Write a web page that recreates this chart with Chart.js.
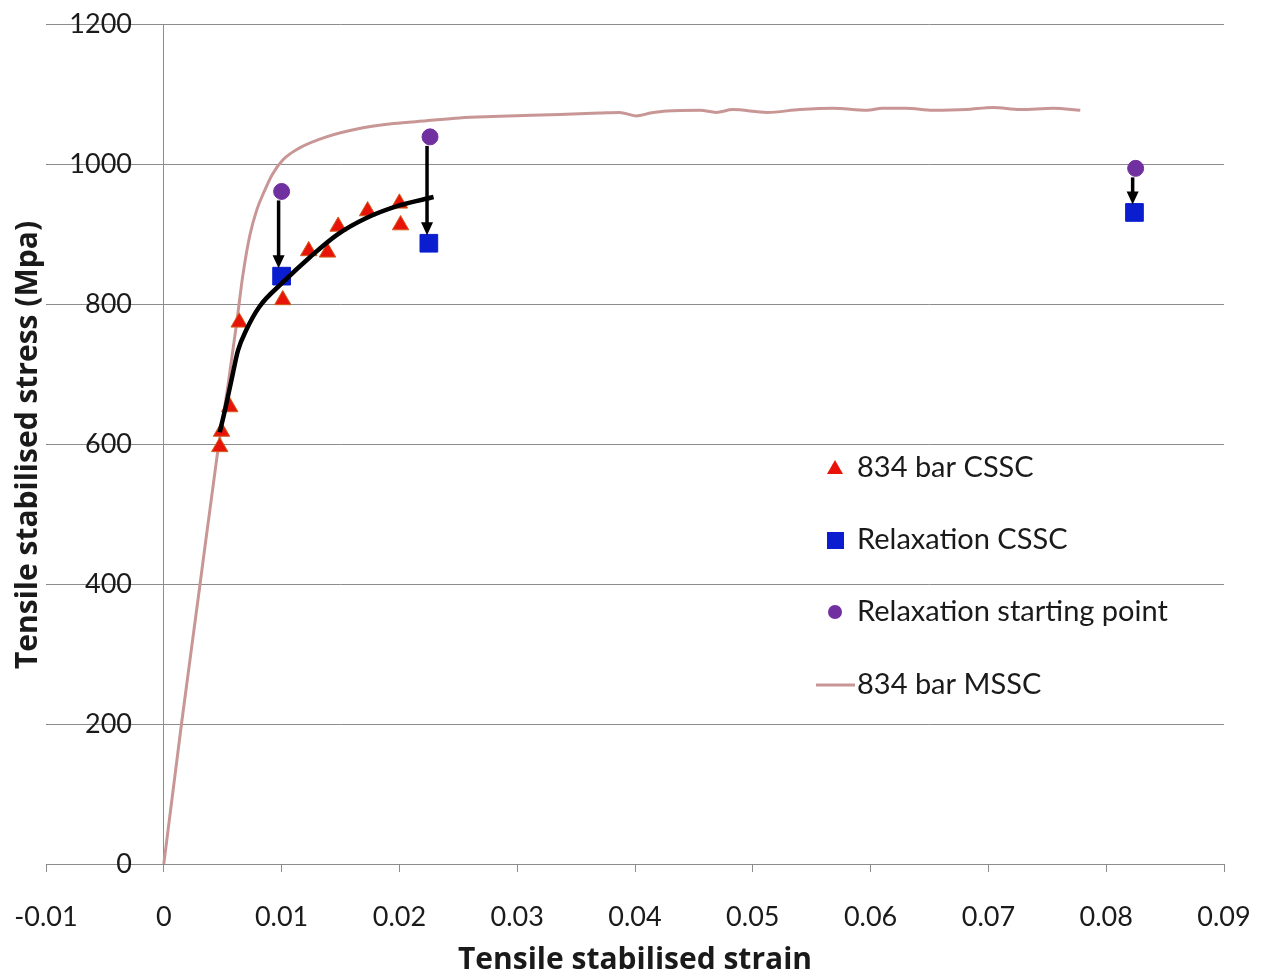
<!DOCTYPE html>
<html>
<head>
<meta charset="utf-8">
<script src="https://cdn.jsdelivr.net/npm/chart.js@4/dist/chart.umd.min.js"></script>
<style>
  body { margin: 0; background: #fff; }
  #wrap { width: 1265px; height: 980px; }
</style>
</head>
<body>
<div id="wrap"><canvas id="stressChart" width="1265" height="980"></canvas></div>
<script>
// 834 bar CSSC (triangles)
const cssc_strain = [0.00475, 0.0049, 0.0056, 0.0064, 0.0101, 0.0123, 0.0139, 0.0148, 0.0173, 0.0200, 0.0201];
const cssc_stress = [596, 618, 653, 774, 806, 876, 874, 911, 933, 944, 913];

// Relaxation CSSC (squares) and starting points (circles)
const relax_strain = [0.0100, 0.0225, 0.0824];
const relax_stress = [840, 887, 931];
const start_strain = [0.0100, 0.0226, 0.0825];
const start_stress = [961, 1039, 994];

// black fitted curve through the CSSC points
const fit_strain = [0.00475, 0.0052, 0.0058, 0.0063, 0.0070, 0.0081, 0.0101, 0.0124, 0.0147, 0.0172, 0.0200, 0.0229];
const fit_stress = [617, 649, 696, 734, 763, 796, 831, 867, 899, 923, 941, 953];

// 834 bar MSSC
const mssc_strain = [0, 0.0015, 0.0030, 0.0045, 0.0055, 0.0062, 0.0067, 0.0073, 0.0079, 0.0085, 0.0092, 0.0101, 0.0115, 0.0138, 0.0166, 0.0195,
  0.0223, 0.0251, 0.0279, 0.0336, 0.0370, 0.0387, 0.0401, 0.0413, 0.0427, 0.0455, 0.0469, 0.0483, 0.0512, 0.0540,
  0.0568, 0.0597, 0.0610, 0.0630, 0.0653, 0.0681, 0.0704, 0.0727, 0.0755, 0.0778];
const mssc_stress = [0, 200, 390, 580, 690, 775, 840, 898, 935, 960, 985, 1006, 1023, 1039, 1051, 1058,
  1062, 1066, 1068, 1071, 1073, 1074, 1069, 1073, 1076, 1077, 1074, 1078, 1074, 1078,
  1080, 1077, 1080, 1080, 1077, 1078, 1081, 1078, 1080, 1077];

const x_ticks = [-0.01, 0, 0.01, 0.02, 0.03, 0.04, 0.05, 0.06, 0.07, 0.08, 0.09];

const pts = (xs, ys) => xs.map((x, i) => ({ x: x, y: ys[i] }));

const FONT = 'Lato, "Open Sans", sans-serif';
const TXT = '#1a1a1a';
const GRID = '#8c8c8c';

// arrows from starting point down to relaxed point
const arrowPlugin = {
  id: 'arrows',
  afterDatasetsDraw(chart) {
    const from = chart.getDatasetMeta(2).data;
    const to = chart.getDatasetMeta(1).data;
    const ctx = chart.ctx;
    ctx.save();
    ctx.strokeStyle = '#000';
    ctx.fillStyle = '#000';
    ctx.lineWidth = 3.5;
    from.forEach((p, i) => {
      const q = to[i];
      const x = p.x - 3;
      const y0 = p.y + 9;
      const y1 = q.y - 8;
      ctx.beginPath();
      ctx.moveTo(x, y0);
      ctx.lineTo(x, y1 - 10);
      ctx.stroke();
      ctx.beginPath();
      ctx.moveTo(x - 6, y1 - 13);
      ctx.lineTo(x + 6, y1 - 13);
      ctx.lineTo(x, y1);
      ctx.closePath();
      ctx.fill();
    });
    ctx.restore();
  }
};

// legend inside the plot + axis titles
const decorPlugin = {
  id: 'decor',
  afterDraw(chart) {
    const ctx = chart.ctx;
    const ds = chart.data.datasets;
    ctx.save();
    ctx.font = '29px ' + FONT;
    ctx.fillStyle = TXT;
    ctx.textBaseline = 'middle';
    ctx.textAlign = 'left';
    const mx = 835, tx = 857;
    const rows = [468, 540, 612, 685];
    // triangle
    ctx.fillStyle = ds[3].backgroundColor;
    ctx.beginPath();
    ctx.moveTo(mx, rows[0] - 8);
    ctx.lineTo(mx + 8, rows[0] + 6);
    ctx.lineTo(mx - 8, rows[0] + 6);
    ctx.closePath();
    ctx.fill();
    // square
    ctx.fillStyle = ds[1].backgroundColor;
    ctx.fillRect(mx - 8, rows[1] - 8, 17, 17);
    // circle
    ctx.fillStyle = ds[2].backgroundColor;
    ctx.beginPath();
    ctx.arc(mx, rows[2], 7, 0, Math.PI * 2);
    ctx.fill();
    // line
    ctx.strokeStyle = ds[4].borderColor;
    ctx.lineWidth = 3;
    ctx.beginPath();
    ctx.moveTo(816, rows[3]);
    ctx.lineTo(855, rows[3]);
    ctx.stroke();

    ctx.fillStyle = TXT;
    ctx.fillText(ds[3].label, tx, rows[0]);
    ctx.fillText(ds[1].label, tx, rows[1]);
    ctx.fillText(ds[2].label, tx, rows[2]);
    ctx.fillText(ds[4].label, tx, rows[3]);

    // axis titles
    ctx.font = 'bold 30px "Open Sans", sans-serif';
    ctx.textAlign = 'center';
    ctx.fillText('Tensile stabilised strain', 635, 960);
    ctx.translate(28, 445);
    ctx.rotate(-Math.PI / 2);
    ctx.fillText('Tensile stabilised stress (Mpa)', 0, 0);
    ctx.restore();
  }
};

const ctx = document.getElementById('stressChart').getContext('2d');
const chart = new Chart(ctx, {
  type: 'scatter',
  data: {
    datasets: [
      {
        label: 'fit',
        type: 'line',
        data: pts(fit_strain, fit_stress),
        borderColor: '#000',
        borderWidth: 4.5,
        pointRadius: 0,
        cubicInterpolationMode: 'monotone',
        fill: false,
        order: 1
      },
      {
        label: 'Relaxation CSSC',
        data: pts(relax_strain, relax_stress),
        backgroundColor: '#0A1ECF',
        borderColor: '#0A1ECF',
        pointStyle: 'rect',
        pointRadius: 12.5,
        order: 3
      },
      {
        label: 'Relaxation starting point',
        data: pts(start_strain, start_stress),
        backgroundColor: '#7030A0',
        borderColor: '#7030A0',
        pointStyle: 'circle',
        pointRadius: 8,
        order: 2
      },
      {
        label: '834 bar CSSC',
        data: pts(cssc_strain, cssc_stress),
        backgroundColor: '#E8140A',
        borderColor: '#D2601E',
        borderWidth: 1,
        pointStyle: 'triangle',
        pointRadius: 9.5,
        order: 4
      },
      {
        label: '834 bar MSSC',
        type: 'line',
        data: pts(mssc_strain, mssc_stress),
        borderColor: '#C99696',
        borderWidth: 3,
        pointRadius: 0,
        cubicInterpolationMode: 'monotone',
        fill: false,
        order: 5
      }
    ]
  },
  options: {
    responsive: false,
    animation: false,
    layout: { padding: { left: 46, top: 24, right: 41, bottom: 0 } },
    plugins: {
      legend: { display: false },
      tooltip: { enabled: false }
    },
    scales: {
      x: {
        type: 'linear',
        position: 'bottom',
        min: -0.01,
        max: 0.09,
        afterFit: (scale) => { scale.height = 116; },
        afterBuildTicks: (scale) => { scale.ticks = x_ticks.map(v => ({ value: v })); },
        ticks: {
          font: { family: FONT, size: 27, lineHeight: 2.45 },
          color: TXT,
          padding: 12,
          maxRotation: 0,
          callback: (v) => String(Number(v.toFixed(2)))
        },
        // only the vertical line at strain 0 is drawn in the plot (the value axis)
        grid: {
          drawOnChartArea: true,
          drawTicks: true,
          tickLength: 8,
          color: (c) => (c.tick && c.tick.value === 0 ? GRID : 'rgba(0,0,0,0)'),
          tickColor: GRID
        },
        border: { color: GRID, width: 1 }
      },
      y: {
        type: 'linear',
        position: { x: -0.0027 },
        min: 0,
        max: 1200,
        ticks: {
          stepSize: 200,
          font: { family: FONT, size: 27 },
          color: TXT,
          padding: 8,
          callback: (v) => String(v)
        },
        grid: { color: GRID, drawTicks: false },
        border: { display: false }
      }
    }
  },
  plugins: [arrowPlugin, decorPlugin]
});
</script>
</body>
</html>
